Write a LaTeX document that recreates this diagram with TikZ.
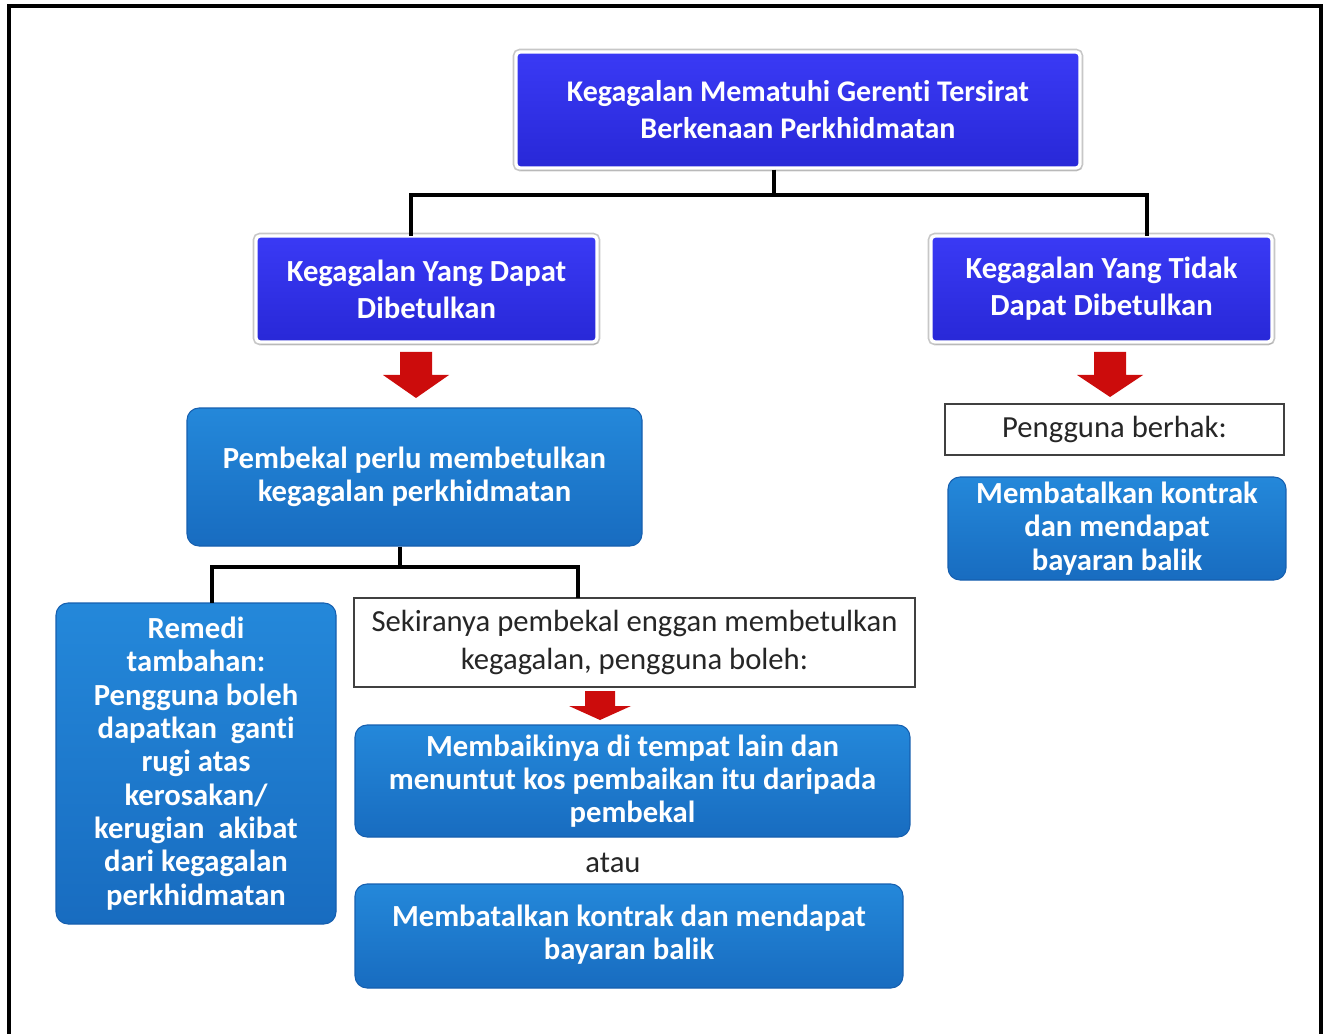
\documentclass[tikz,border=0pt]{standalone}
\usepackage{fontspec}
\setmainfont{Carlito}[Ligatures=NoCommon]
\usetikzlibrary{shadows,calc}
\definecolor{vtop}{RGB}{58,58,245}
\definecolor{vbot}{RGB}{40,40,215}
\definecolor{mbtop}{RGB}{36,136,218}
\definecolor{mbbot}{RGB}{24,108,192}
\definecolor{mbdraw}{RGB}{22,95,175}
\definecolor{arrred}{RGB}{204,12,12}
\newcommand\RedArrow[6]{% x, ytop, ybase, ytip, halfshaft, halfhead
  \fill[arrred] (#1-#5,#2) -- (#1+#5,#2) -- (#1+#5,#3) -- (#1+#6,#3) -- (#1,#4) -- (#1-#6,#3) -- (#1-#5,#3) -- cycle;}
\begin{document}
\begin{tikzpicture}[x=0.75pt,y=-0.75pt,
  vbox/.style={draw=white, line width=2.5pt, rounded corners=3pt, top color=vtop, bottom color=vbot, text=white,
    font=\bfseries\fontsize{22.5}{27.75}\selectfont, align=center, inner sep=0pt,
    preaction={draw=black!22, line width=5pt},
    drop shadow={shadow xshift=1pt, shadow yshift=-2pt, opacity=0.3}},
  mbox/.style={draw=mbdraw, line width=0.8pt, rounded corners=9pt, top color=mbtop, bottom color=mbbot, text=white,
    font=\bfseries\fontsize{23}{25}\selectfont, align=center, inner sep=0pt},
  wbox/.style={draw=black!75, line width=1pt, fill=white, text=black!85,
    font=\fontsize{23}{28}\selectfont, align=center, inner sep=0pt},
  plain/.style={text=black!85, font=\fontsize{23}{28}\selectfont, inner sep=0pt},
  conn/.style={line width=3.6pt, black},
  frame/.style={line width=3.5pt, black}]
\useasboundingbox (0,0) rectangle (1325,1034);
\draw[frame] (9,1034) -- (9,6) -- (1321,6) -- (1321,1034);

\node[vbox, minimum width=423pt, minimum height=87pt] (top) at (798,110)
  {Kegagalan Mematuhi\ Gerenti Tersirat\\Berkenaan Perkhidmatan};
\node[vbox, font=\bfseries\fontsize{23}{27.75}\selectfont, minimum width=255.75pt, minimum height=79.5pt] (A) at (426.5,289)
  {Kegagalan Yang Dapat\\Dibetulkan};
\node[vbox, font=\bfseries\fontsize{23}{27.75}\selectfont, minimum width=255.75pt, minimum height=79.5pt] (B) at (1101.5,289)
  {Kegagalan Yang Tidak\\Dapat Dibetulkan};

\node[mbox, minimum width=341.25pt, minimum height=103.5pt] (C) at (414.5,477)
  {Pembekal perlu membetulkan\\kegagalan perkhidmatan};
\node[wbox, minimum width=254.25pt, minimum height=38.25pt] (D) at (1114.5,429.5)
  {Pengguna berhak:};
\node[mbox, minimum width=253.5pt, minimum height=77.25pt] (E) at (1117,528.5)
  {Membatalkan\ kontrak\\dan mendapat\\bayaran balik};
\node[mbox, minimum width=210pt, minimum height=240.75pt] (F) at (196,763.5)
  {Remedi\\tambahan:\\Pengguna boleh\\dapatkan\ \ ganti\\rugi atas\\kerosakan/\\kerugian\ \ akibat\\dari kegagalan\\perkhidmatan};
\node[wbox, minimum width=420.75pt, minimum height=66.75pt] (G) at (634.5,642.5)
  {Sekiranya pembekal\ enggan\ membetulkan\\kegagalan,\ pengguna\ boleh:};
\node[mbox, minimum width=416.25pt, minimum height=84pt] (H) at (632.5,781)
  {Membaikinya\ di tempat lain\ dan\\menuntut kos\ pembaikan\ itu\ daripada\\pembekal};
\node[plain] (atau) at (613,863) {atau};
\node[mbox, minimum width=411pt, minimum height=78pt] (I) at (629,936)
  {\raisebox{5pt}{\begin{tabular}{@{}c@{}}Membatalkan\ kontrak\ dan\ mendapat\\bayaran balik\end{tabular}}};

% connectors
\coordinate (j1) at (774,195);
\coordinate (aL) at (411,236);
\coordinate (bR) at (1147,236);
\draw[conn] (top.south -| j1) -- (j1);
\draw[conn] (aL) |- (j1) -| (bR);
\coordinate (j2) at (400,567);
\coordinate (fT) at (212,603);
\coordinate (gT) at (578,598);
\draw[conn] (C.south -| j2) -- (j2);
\draw[conn] (fT) |- (j2) -| (gT);

% red arrows
\RedArrow{416}{352}{375}{398}{16}{33}
\RedArrow{1110}{352}{375}{397}{16}{33}
\RedArrow{600}{691}{706}{720}{15}{31}
\end{tikzpicture}
\end{document}
